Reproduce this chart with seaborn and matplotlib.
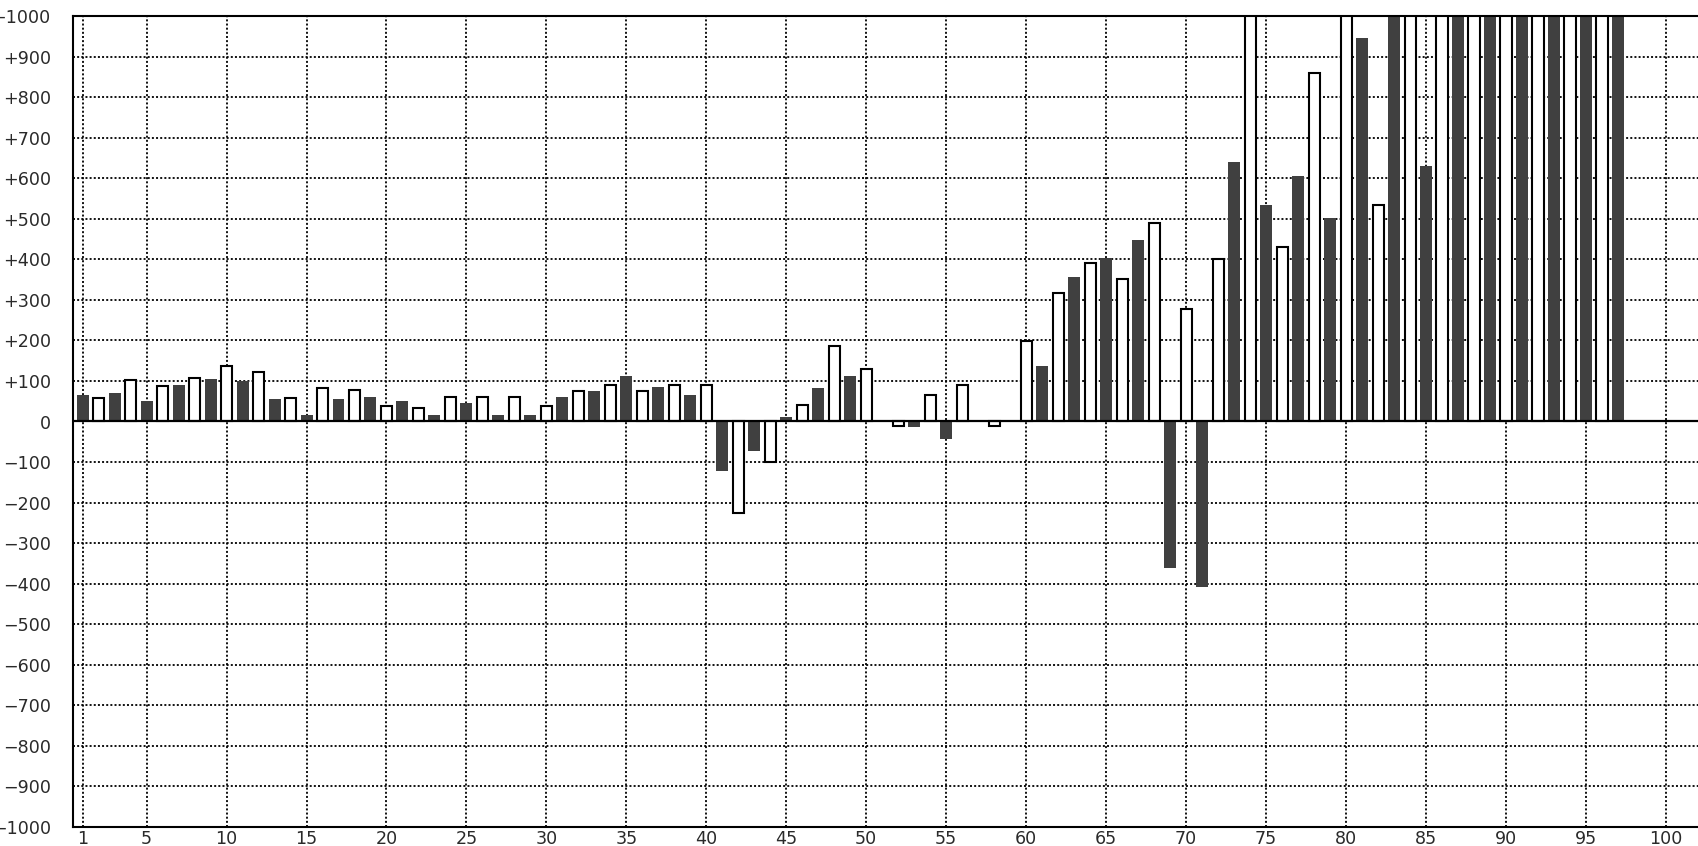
import numpy as np
import pandas as pd
import matplotlib
matplotlib.use('Agg')
import matplotlib.pyplot as plt
import seaborn as sns
from matplotlib.ticker import FixedLocator, FuncFormatter

# odd positions -> dark bars, even positions -> white bars
dark_x = list(range(1, 98, 2))
dark_vals = [65, 70, 50, 90, 105, 100, 55, 15, 55, 60,
             50, 16, 46, 16, 16, 61, 76, 111, 86, 66,
             -123, -73, 12, 82, 112, 0, -13, -43, 0, 0,
             136, 357, 402, 447, -362, -408, 639, 535, 605, 501,
             946, 1080, 629, 1150, 1220, 1260, 1300, 1350, 1400]

white_x = list(range(2, 97, 2))
white_vals = [58, 103, 88, 108, 138, 123, 58, 83, 78, 39,
              34, 60, 60, 60, 39, 75, 89, 75, 89, 90,
              -226, -101, 40, 185, 130, -12, 65, 89, -11, 198,
              316, 391, 352, 489, 277, 400, 1090, 431, 860, 1210,
              534, 1180, 1250, 1290, 1330, 1380, 1420, 1460]

x_ticks = [1, 5, 10, 15, 20, 25, 30, 35, 40, 45, 50, 55, 60, 65, 70, 75, 80, 85, 90, 95, 100]
y_ticks = list(range(-1000, 1001, 100))

df_dark = pd.DataFrame({'x': dark_x, 'valor': dark_vals})
df_white = pd.DataFrame({'x': white_x, 'valor': white_vals})

sns.set_style('white')
plt.rcParams['font.family'] = ['DejaVu Sans']

fig = plt.figure(figsize=(16.98, 8.46), dpi=100)
W, H = 1698, 846
ax = fig.add_axes([73 / W, (H - 827) / H, (W - 73) / W, 811 / H])

sns.barplot(data=df_dark, x='x', y='valor', native_scale=True, width=0.375,
            color='#404040', saturation=1, errorbar=None, linewidth=0, ax=ax, zorder=2)
sns.barplot(data=df_white, x='x', y='valor', native_scale=True, width=0.35,
            color='white', saturation=1, errorbar=None, edgecolor='black',
            linewidth=1.5, ax=ax, zorder=2)

ax.axhline(0, color='black', lw=1.6, zorder=3)

ax.set_xlim(0.4, 102)
ax.set_ylim(-1000, 1000)
ax.xaxis.set_major_locator(FixedLocator(x_ticks))
ax.yaxis.set_major_locator(FixedLocator(y_ticks))


def fmt_y(v, pos):
    v = int(round(v))
    if v > 0:
        return f'+{v}'
    if v < 0:
        return f'\u2212{abs(v)}'
    return '0'


ax.yaxis.set_major_formatter(FuncFormatter(fmt_y))
ax.set_xlabel('')
ax.set_ylabel('')

ax.grid(True, color='black', lw=1.3, linestyle=(0, (1.1, 1.2)), zorder=0)
ax.set_axisbelow(True)
ax.tick_params(axis='both', length=0, labelsize=12.6, labelcolor='#2a2a2a')
ax.tick_params(axis='y', pad=16)
ax.tick_params(axis='x', pad=2)

for side in ['left', 'top', 'bottom']:
    ax.spines[side].set_visible(True)
    ax.spines[side].set_color('black')
    ax.spines[side].set_linewidth(1.5)
ax.spines['right'].set_visible(False)

fig.savefig('out.png', dpi=100)
